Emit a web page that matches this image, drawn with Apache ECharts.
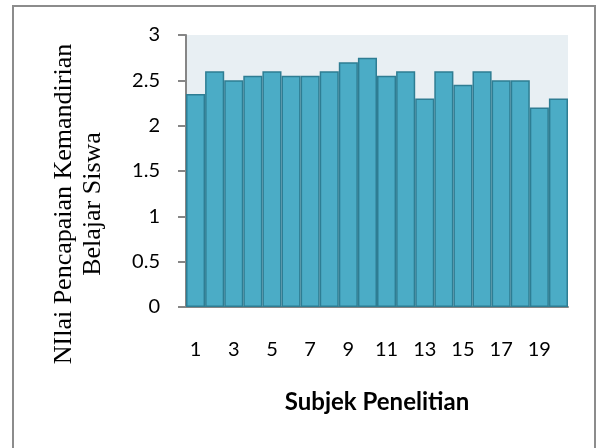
<!DOCTYPE html>
<html><head><meta charset="utf-8">
<script src="https://cdn.jsdelivr.net/npm/echarts@6/dist/echarts.min.js"></script>
<style>html,body{margin:0;padding:0;background:#fff}#c{width:604px;height:448px}</style>
</head><body><div id="c"></div>
<script>
const categories = ['1','2','3','4','5','6','7','8','9','10','11','12','13','14','15','16','17','18','19','20'];
const values = [2.35,2.6,2.5,2.55,2.6,2.55,2.55,2.6,2.7,2.75,2.55,2.6,2.3,2.6,2.45,2.6,2.5,2.5,2.2,2.3];
const yTicks = [0,0.5,1,1.5,2,2.5,3];
const yTitle = 'NIlai Pencapaian Kemandirian\nBelajar Siswa';
const xTitle = 'Subjek Penelitian';

const chart = echarts.init(document.getElementById('c'));
chart.setOption({
  animation:false,
  graphic:[
    {type:'rect',shape:{x:13,y:6,width:582,height:460},style:{fill:'none',stroke:'#8c8c8c',lineWidth:2}},
    {type:'text',x:79,y:204,rotation:Math.PI/2,
      style:{text:yTitle,fontFamily:'Liberation Serif',fontSize:26,lineHeight:29,fill:'#000',
        textAlign:'center',textVerticalAlign:'middle',align:'center',verticalAlign:'middle'}}
  ],
  grid:{left:186,right:36,top:35,bottom:141,show:true,backgroundColor:'#E8EFF3',borderWidth:0},
  xAxis:{type:'category',data:categories,
    axisLine:{lineStyle:{color:'#868686',width:2}},axisTick:{show:false},
    axisLabel:{interval:1,color:'#000',fontFamily:'Lato',fontSize:20,margin:33},
    name:xTitle,nameLocation:'middle',nameGap:83,
    nameTextStyle:{fontFamily:'Lato',fontWeight:'bold',fontSize:24,color:'#000'}},
  yAxis:{type:'value',min:0,max:3,interval:0.5,
    axisLine:{show:true,lineStyle:{color:'#868686',width:2}},
    axisTick:{show:true,length:8,lineStyle:{color:'#868686',width:2}},
    splitLine:{show:false},
    axisLabel:{color:'#000',fontFamily:'Lato',fontSize:20,margin:26,
      formatter:v=>yTicks.includes(v)?String(v):''}},
  series:[{type:'bar',data:values,barCategoryGap:'0%',
    itemStyle:{color:'#4BACC6',borderColor:'#2E7D93',borderWidth:1.5}}]
});
</script></body></html>
